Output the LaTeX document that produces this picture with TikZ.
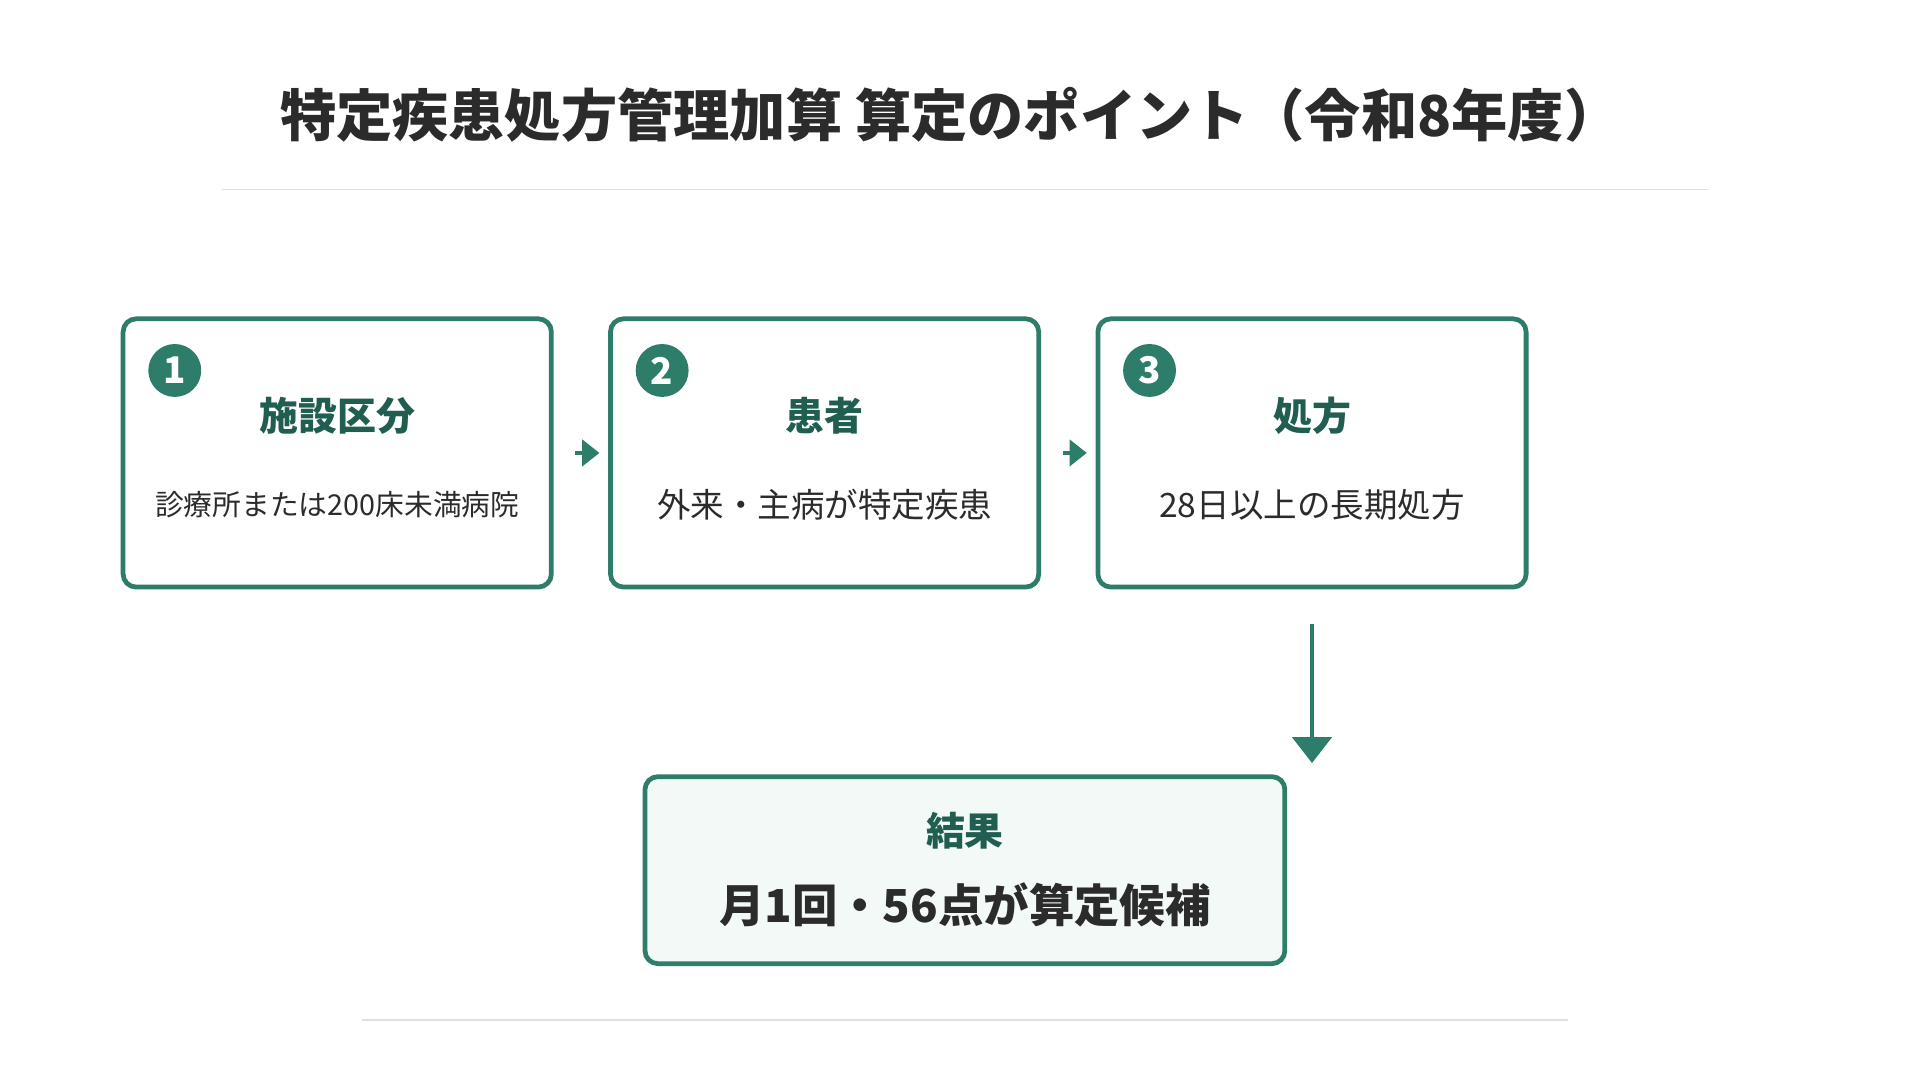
\documentclass[tikz,border=0pt]{standalone}
\usepackage{fontspec}
\setmainfont{Noto Sans CJK JP}
\usetikzlibrary{arrows.meta}
\definecolor{brand}{HTML}{2E7D6B}
\definecolor{darkbrand}{HTML}{1F5E50}
\definecolor{ink}{HTML}{2B2B2B}
\definecolor{pale}{HTML}{F3F9F7}
\tikzstyle{stepbox}=[draw=brand,line width=2.2pt,rounded corners=6pt,minimum width=6.96cm,minimum height=4.36cm,inner sep=0pt]
\tikzstyle{badge}=[circle,fill=brand,minimum size=0.86cm,inner sep=0pt,text=white,font=\fontsize{17}{17}\selectfont\bfseries]
\tikzstyle{head}=[text=darkbrand,font=\fontsize{18}{18}\selectfont\bfseries]
\tikzstyle{body}=[text=ink,font=\fontsize{15.5}{16}\selectfont]
\tikzstyle{flow}=[-{Triangle[length=8pt,width=12pt]},brand,line width=2.2pt]

\begin{document}
\begin{tikzpicture}[x=0.02cm,y=-0.02cm]
\useasboundingbox (0,0) rectangle (1560,877);
\node[text=ink,font=\fontsize{26}{26}\selectfont\bfseries] at (772,93) (title) {特定疾患処方管理加算 算定のポイント（令和8年度）};
\draw[gray!25,line width=0.8pt] (180,154) -- (1388,154);
% steps
\node[stepbox] at (274,368) (s1) {};
\node[stepbox] at (670,368) (s2) {};
\node[stepbox] at (1066,368) (s3) {};
\node[badge] at (142,301) (b1) {1};
\node[badge] at (538,301) (b2) {2};
\node[badge] at (934,301) (b3) {3};
\node[head] at (274,338) (h1) {施設区分};
\node[head] at (670,338) (h2) {患者};
\node[head] at (1066,338) (h3) {処方};
\node[body,font=\fontsize{13.3}{14}\selectfont] at (274,410) (t1) {診療所または200床未満病院};
\node[body] at (670,410) (t2) {外来・主病が特定疾患};
\node[body] at (1066,410) (t3) {28日以上の長期処方};
\draw[flow] ([xshift=10]s1.east) -- ([xshift=-4]s2.west);
\draw[flow] ([xshift=10]s2.east) -- ([xshift=-4]s3.west);
% result
\node[stepbox,fill=pale,minimum width=10.4cm,minimum height=3.04cm] at (784,707) (res) {};
\coordinate (d0) at (1066,507);
\coordinate (d1) at (1066,620);
\draw[flow,-{Triangle[length=12pt,width=18pt]}] (d0) -- (d1);
\node[head] at (784,675) (rh) {結果};
\node[text=ink,font=\fontsize{21}{21}\selectfont\bfseries] at (784,735) (rt) {月1回・56点が算定候補};
\draw[gray!25,line width=0.8pt] (294,829) -- (1274,829);
\end{tikzpicture}
\end{document}
